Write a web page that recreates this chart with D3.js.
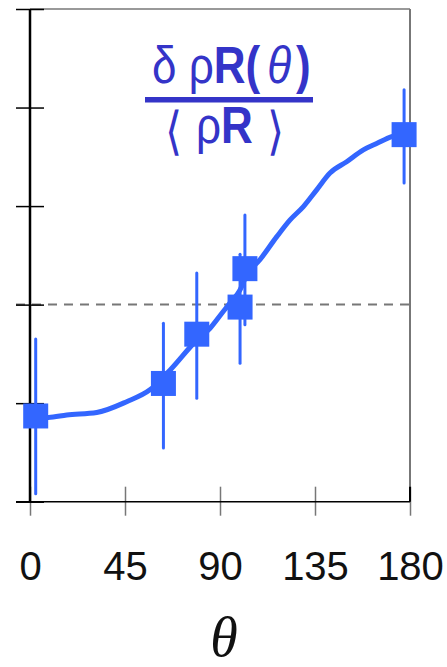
<!DOCTYPE html>
<html>
<head>
<meta charset="utf-8">
<script src="https://cdn.jsdelivr.net/npm/d3@7"></script>
<style>
  html, body { margin: 0; padding: 0; background: #fff; }
  svg { display: block; }
</style>
</head>
<body>
<svg id="chart" width="447" height="667"></svg>
<script>
// Measured angles (degrees) and normalised areal density ratio
const theta    = [2.7, 63.2, 79.0, 99.5, 101.8, 177.2];
const ratio    = [0.774, 0.840, 0.940, 0.995, 1.073, 1.345];
const errLow   = [0.616, 0.709, 0.810, 0.881, 0.959, 1.247];
const errHigh  = [0.930, 0.962, 1.064, 1.102, 1.182, 1.436];

// Model curve
const curveTheta = [2.7, 8.7, 17.4, 31.6, 45.8, 56.8, 66.3, 79.0, 85.3, 90.8, 94.7, 99.5, 102.6,
                    108.9, 116.9, 123.2, 129.5, 135.8, 142.1, 150.0, 157.9, 164.2, 171.3, 177.2];
const curveRatio = [0.771, 0.771, 0.776, 0.781, 0.803, 0.827, 0.867, 0.928, 0.952, 0.982, 1.003, 1.030, 1.060,
                    1.091, 1.138, 1.172, 1.199, 1.233, 1.267, 1.290, 1.314, 1.327, 1.341, 1.346];

const xTicks = [0, 45, 90, 135, 180];
const yTicks = [0.6, 0.8, 1.0, 1.2, 1.4, 1.6];
const refLevel = 1.0;

const svg = d3.select("#chart");
const plotLeft = 30, plotRight = 410, plotTop = 9, plotBottom = 501.7;

const x = d3.scaleLinear().domain([0, 180]).range([plotLeft, plotRight]);
const y = d3.scaleLinear().domain([0.6, 1.6]).range([plotBottom, plotTop]);

const blue = "#3366ff";
const titleBlue = "#3434c8";
const gray = "#777";

// frame: top and right borders
svg.append("line").attr("x1", plotLeft).attr("x2", plotRight).attr("y1", plotTop).attr("y2", plotTop)
  .attr("stroke", gray).attr("stroke-width", 1.5);
svg.append("line").attr("x1", plotRight).attr("x2", plotRight).attr("y1", plotTop).attr("y2", plotBottom)
  .attr("stroke", gray).attr("stroke-width", 2);

// reference level
svg.append("line").attr("x1", 16).attr("x2", plotRight).attr("y1", y(refLevel)).attr("y2", y(refLevel))
  .attr("stroke", gray).attr("stroke-width", 2).attr("stroke-dasharray", "9,7");

// x axis
const xAxis = d3.axisBottom(x).tickValues(xTicks).tickSize(0).tickFormat(d3.format("d"));
const gx = svg.append("g").attr("transform", `translate(0,${plotBottom})`).call(xAxis);
gx.select(".domain").remove();
gx.selectAll(".tick line").remove();
gx.selectAll(".tick").append("line")
  .attr("y1", -15).attr("y2", 14).attr("stroke", gray).attr("stroke-width", 1.5);
gx.selectAll(".tick text")
  .attr("y", 78).attr("dy", 0)
  .attr("font-family", "'Liberation Sans', Arial, sans-serif")
  .attr("font-size", 40).attr("fill", "#111");
svg.append("line").attr("x1", 16).attr("x2", plotRight).attr("y1", plotBottom).attr("y2", plotBottom)
  .attr("stroke", "#000").attr("stroke-width", 1.5);
svg.append("line").attr("x1", plotRight).attr("x2", plotRight).attr("y1", plotBottom - 15).attr("y2", plotBottom)
  .attr("stroke", "#000").attr("stroke-width", 2);

// y axis (unlabelled ticks)
const yAxis = d3.axisLeft(y).tickValues(yTicks).tickSize(0).tickFormat("");
const gy = svg.append("g").attr("transform", `translate(${plotLeft},0)`).call(yAxis);
gy.select(".domain").remove();
gy.selectAll(".tick").append("line")
  .attr("x1", -14).attr("x2", 14).attr("stroke", "#000").attr("stroke-width", 1.5);
svg.append("line").attr("x1", plotLeft).attr("x2", plotLeft).attr("y1", plotTop).attr("y2", plotBottom)
  .attr("stroke", "#000").attr("stroke-width", 2.5);

// model curve
const line = d3.line().x(d => x(d[0])).y(d => y(d[1])).curve(d3.curveMonotoneX);
svg.append("path")
  .datum(curveTheta.map((t, i) => [t, curveRatio[i]]))
  .attr("d", line).attr("fill", "none").attr("stroke", blue)
  .attr("stroke-width", 5).attr("stroke-linejoin", "round").attr("stroke-linecap", "round");

// data points with error bars
const pts = theta.map((t, i) => ({ t, v: ratio[i], lo: errLow[i], hi: errHigh[i] }));
const g = svg.append("g");
pts.forEach(p => {
  g.append("line").attr("x1", x(p.t)).attr("x2", x(p.t))
    .attr("y1", y(p.lo)).attr("y2", y(p.hi))
    .attr("stroke", blue).attr("stroke-width", 3).attr("stroke-linecap", "round");
  g.append("rect").attr("x", x(p.t) - 12.5).attr("y", y(p.v) - 12.5)
    .attr("width", 25).attr("height", 25).attr("fill", blue);
});

// fraction label  δρR(θ) / ⟨ρR⟩  (glyphs slightly stretched vertically)
const sans = "'Liberation Sans', Arial, sans-serif";
const fs = 44;
const stretch = 1.16;
const num = svg.append("text").attr("transform", `translate(152,83) scale(1,${stretch})`)
  .attr("font-family", sans).attr("font-size", fs).attr("fill", titleBlue);
num.append("tspan").text("δ ρ");
num.append("tspan").attr("font-weight", "bold").text("R(");
num.append("tspan").attr("dx", 7).attr("font-style", "italic").text("θ");
num.append("tspan").attr("dx", 5).attr("font-weight", "bold").text(")");

svg.append("rect").attr("x", 145).attr("y", 97).attr("width", 168).attr("height", 5.5).attr("fill", titleBlue);

const den = svg.append("text").attr("transform", `translate(196,143) scale(1,${stretch})`)
  .attr("font-family", sans).attr("font-size", fs).attr("fill", titleBlue);
den.append("tspan").text("ρ");
den.append("tspan").attr("font-weight", "bold").text("R");

// angle brackets around the mean
const bracket = (cx, ch) => svg.append("text")
  .attr("transform", `translate(${cx},149) scale(1,1.18)`)
  .attr("font-family", "'DejaVu Sans', sans-serif").attr("font-weight", 200)
  .attr("font-size", 44).attr("fill", titleBlue).text(ch);
bracket(165, "⟨");
bracket(267, "⟩");

// x axis title
svg.append("text").attr("x", 224).attr("y", 656).attr("text-anchor", "middle")
  .attr("font-family", "'Liberation Serif', 'Times New Roman', serif")
  .attr("font-style", "italic").attr("font-size", 56).attr("fill", "#111").text("θ");
</script>
</body>
</html>
